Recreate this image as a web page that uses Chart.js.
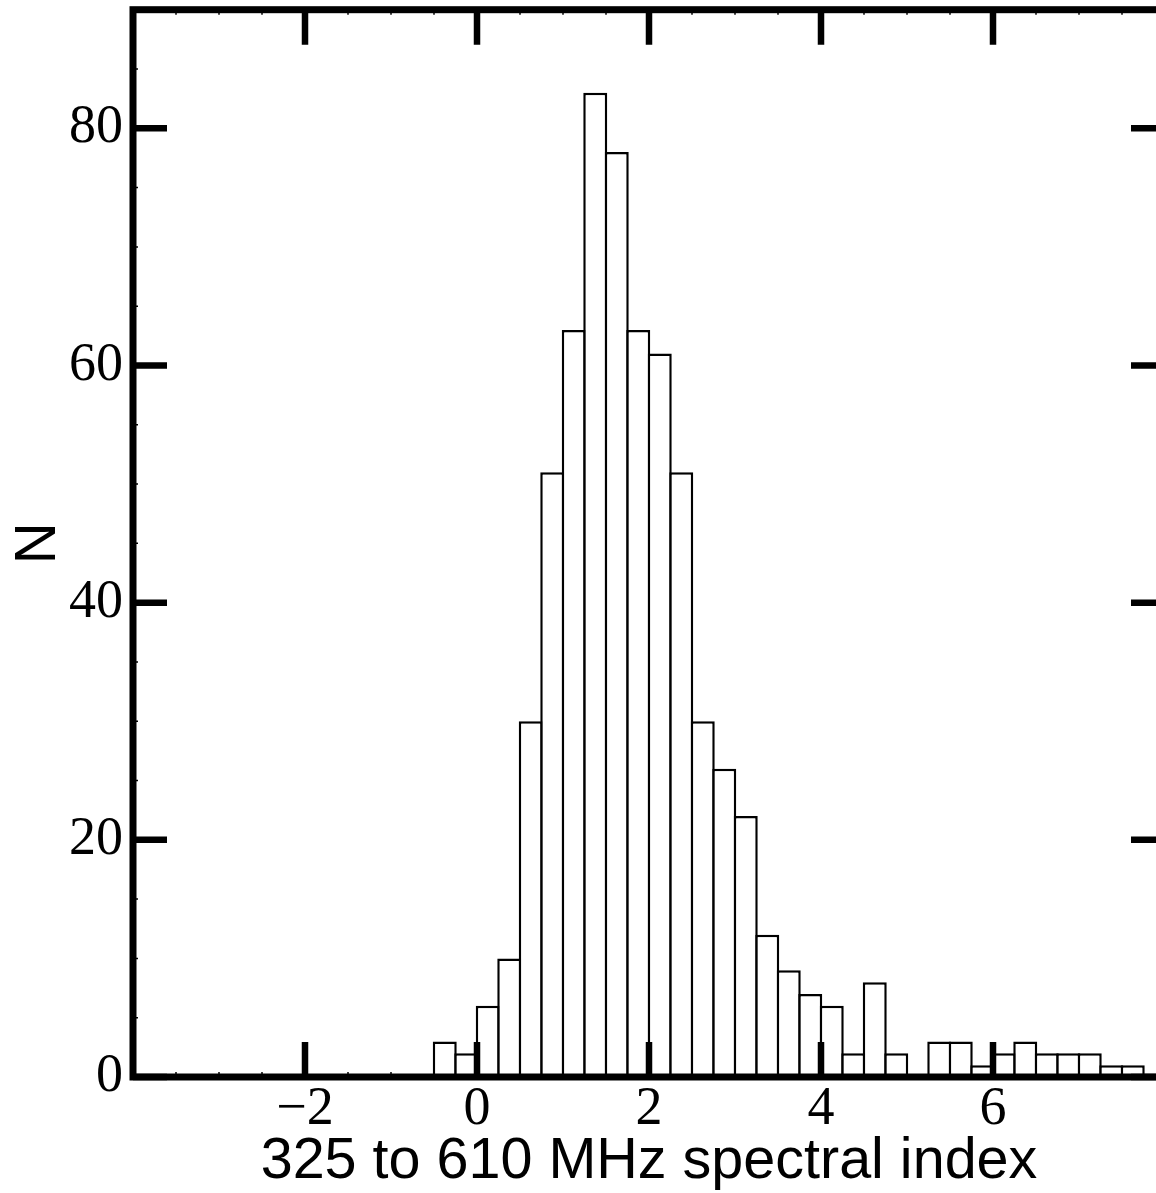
<!DOCTYPE html>
<html>
<head>
<meta charset="utf-8">
<script src="https://cdn.jsdelivr.net/npm/chart.js@4.4.1/dist/chart.umd.min.js"></script>
<style>
  html, body { margin: 0; padding: 0; background: #fff; overflow: hidden; }
  canvas { display: block; }
</style>
</head>
<body>
<canvas id="hist" width="1180" height="1193"></canvas>
<script>
// centres of the 0.25-wide spectral index bins (-0.5 .. 7.75)
const binCentres = [
  -0.375, -0.125, 0.125, 0.375, 0.625, 0.875, 1.125, 1.375, 1.625, 1.875,
  2.125, 2.375, 2.625, 2.875, 3.125, 3.375, 3.625, 3.875, 4.125, 4.375,
  4.625, 4.875, 5.125, 5.375, 5.625, 5.875, 6.125, 6.375, 6.625, 6.875,
  7.125, 7.375, 7.625
];
const counts = [
  3, 2, 6, 10, 30, 51, 63, 83, 78, 63,
  61, 51, 30, 26, 22, 12, 9, 7, 6, 2,
  8, 2, 0, 3, 3, 1, 2, 3, 2, 2,
  2, 1, 1
];
const xTicks = [-2, 0, 2, 4, 6];
const yTicks = [0, 20, 40, 60, 80];
const xMinor = 0.5;
const yMinor = 5;

const xTitle = '325 to 610 MHz spectral index';
const yTitle = 'N';

const serif = 'Liberation Serif';
const sans = 'Liberation Sans';

function fmt(v) {
  return v < 0 ? '\u2212' + Math.abs(v) : String(v);
}

// axes box with inward major/minor ticks on all four sides
const frame = {
  id: 'frame',
  afterDatasetsDraw(chart) {
    const {ctx, chartArea: a, scales: {x, y}} = chart;
    ctx.save();
    ctx.strokeStyle = '#000';
    ctx.lineCap = 'butt';

    ctx.lineWidth = 1.5;
    ctx.beginPath();
    for (let v = x.min; v <= x.max + 1e-9; v += xMinor) {
      if (xTicks.includes(v)) continue;
      const px = x.getPixelForValue(v);
      ctx.moveTo(px, a.top); ctx.lineTo(px, a.top + 5);
      ctx.moveTo(px, a.bottom); ctx.lineTo(px, a.bottom - 5);
    }
    for (let v = y.min; v <= y.max + 1e-9; v += yMinor) {
      if (yTicks.includes(v)) continue;
      const py = y.getPixelForValue(v);
      ctx.moveTo(a.left, py); ctx.lineTo(a.left + 5, py);
      ctx.moveTo(a.right, py); ctx.lineTo(a.right - 5, py);
    }
    ctx.stroke();

    ctx.lineWidth = 6.5;
    ctx.beginPath();
    xTicks.forEach(v => {
      const px = x.getPixelForValue(v);
      ctx.moveTo(px, a.top); ctx.lineTo(px, a.top + 35);
      ctx.moveTo(px, a.bottom); ctx.lineTo(px, a.bottom - 35);
    });
    yTicks.forEach(v => {
      const py = y.getPixelForValue(v);
      ctx.moveTo(a.left, py); ctx.lineTo(a.left + 34, py);
      ctx.moveTo(a.right, py); ctx.lineTo(a.right - 34, py);
    });
    ctx.stroke();

    ctx.lineWidth = 7;
    ctx.strokeRect(a.left, a.top, a.right - a.left, a.bottom - a.top);
    ctx.restore();
  }
};

const data = {
  datasets: [{
    data: binCentres.map((c, i) => ({x: c, y: counts[i]})),
    backgroundColor: '#fff',
    borderColor: '#000',
    borderWidth: 2.5,
    borderSkipped: 'start',
    // bars overlap by one border width so neighbouring edges share a line
    barPercentage: 1.116,
    categoryPercentage: 1
  }]
};

const config = {
  type: 'bar',
  data: data,
  options: {
    responsive: false,
    animation: false,
    layout: { padding: { top: 9.7, right: 15, left: 0, bottom: 0 } },
    plugins: {
      legend: { display: false },
      tooltip: { enabled: false }
    },
    scales: {
      x: {
        type: 'linear',
        min: -4,
        max: 8,
        offset: false,
        grid: { display: false, drawTicks: false },
        border: { display: false },
        afterBuildTicks: s => { s.ticks = xTicks.map(v => ({value: v})); },
        afterFit: s => { s.height = 116; s.paddingLeft = 0; s.paddingRight = 0; },
        ticks: {
          padding: 0,
          maxRotation: 0,
          color: '#000',
          font: { family: serif, size: 54 },
          callback: v => fmt(v)
        },
        title: {
          display: true,
          text: xTitle,
          color: '#000',
          font: { family: sans, size: 57.5, lineHeight: 1 },
          padding: { top: 0, bottom: 2 }
        }
      },
      y: {
        min: 0,
        max: 90,
        grid: { display: false, drawTicks: false },
        border: { display: false },
        afterBuildTicks: s => { s.ticks = yTicks.map(v => ({value: v})); },
        // keep the plot box flush with the layout padding
        afterFit: s => { s.width = 133; s.paddingTop = 0; s.paddingBottom = 0; },
        ticks: {
          padding: 10,
          color: '#000',
          font: { family: serif, size: 54 },
          callback: v => fmt(v)
        },
        title: {
          display: true,
          text: yTitle,
          color: '#000',
          font: { family: sans, size: 58, lineHeight: 1 },
          padding: { top: 10, bottom: 0 }
        }
      }
    }
  },
  plugins: [frame]
};

const ctx = document.getElementById('hist');
new Chart(ctx, config);
</script>
</body>
</html>
